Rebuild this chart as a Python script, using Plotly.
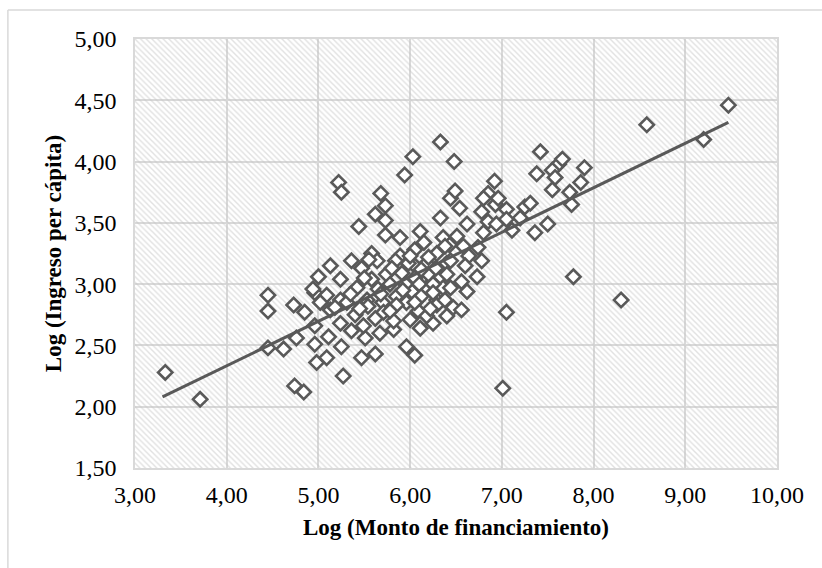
import plotly.graph_objects as go

# ---- data ----
x_vals = [
    3.33, 3.71,
    4.45, 4.45, 4.73, 4.85, 4.96, 5.09,
    4.45, 4.62, 4.76, 4.96, 4.98, 5.09,
    4.74, 4.84,
    5.47, 5.62, 5.96, 6.05,
    6.11, 6.25, 6.40, 5.24, 5.36, 5.51, 5.67, 5.82, 5.13,
    5.25, 5.27,
    6.33, 6.03, 6.48, 5.94, 5.22, 5.25, 5.68, 6.44, 6.49, 6.36, 6.43, 6.51, 5.89, 6.05,
    5.73, 5.62, 5.73, 5.44, 5.73, 5.89, 6.33, 6.11, 6.15, 6.29, 6.05, 5.58, 5.36, 5.13,
    5.00, 5.47, 5.64, 5.84, 5.98, 6.18, 6.40, 5.24, 5.42, 5.58, 5.74, 5.91, 6.05, 6.20,
    6.33, 4.94, 5.24, 5.65, 5.85, 6.02, 6.18, 6.36, 5.53, 5.70, 5.96, 6.29,
    5.02, 5.18, 5.31, 5.54, 5.40, 5.71, 5.85, 6.09, 6.29, 5.49, 5.11, 4.96, 5.82, 6.00,
    6.54, 6.78, 6.93, 7.05, 7.25, 7.31, 6.85, 7.05, 7.20, 6.62, 6.80, 6.94, 7.11,
    6.38, 6.58, 6.74, 6.64, 6.78, 6.44, 6.60, 6.40, 6.56, 6.73, 6.44, 6.62, 6.38,
    7.05, 7.36, 7.50, 7.76, 7.78,
    6.47, 6.56, 7.01,
    7.42, 7.38, 7.62, 7.66, 7.55, 7.58, 7.55, 7.74, 7.90, 7.86, 6.92, 6.85, 6.80, 6.96,
    8.30, 8.58, 9.20, 9.47,
    5.78, 5.95, 6.10, 6.25, 5.80, 6.12, 6.28, 5.68, 5.92, 6.12, 6.25, 6.00, 6.20,
    5.55, 5.50, 5.35, 5.45, 5.62, 5.78, 6.18, 6.05, 6.22,
]
y_vals = [
    2.28, 2.06,
    2.91, 2.78, 2.83, 2.77, 2.93, 2.91,
    2.48, 2.47, 2.56, 2.51, 2.36, 2.40,
    2.17, 2.12,
    2.40, 2.43, 2.49, 2.42,
    2.64, 2.68, 2.74, 2.68, 2.62, 2.56, 2.60, 2.63, 2.79,
    2.49, 2.25,
    4.16, 4.04, 4.00, 3.89, 3.83, 3.75, 3.74, 3.70, 3.76, 3.38, 3.32, 3.39, 3.23, 3.15,
    3.64, 3.57, 3.52, 3.47, 3.40, 3.38, 3.54, 3.43, 3.34, 3.25, 3.28, 3.25, 3.19, 3.15,
    3.06, 3.13, 3.19, 3.19, 3.17, 3.17, 3.17, 3.04, 2.97, 3.04, 3.08, 3.09, 3.05, 3.08,
    3.06, 2.96, 2.87, 2.96, 2.90, 2.94, 2.97, 2.97, 2.87, 2.85, 2.85, 2.87,
    2.85, 2.81, 2.85, 2.82, 2.75, 2.77, 2.83, 2.78, 2.83, 2.66, 2.57, 2.66, 2.70, 2.71,
    3.62, 3.59, 3.65, 3.61, 3.63, 3.66, 3.51, 3.53, 3.54, 3.49, 3.42, 3.49, 3.44,
    3.31, 3.31, 3.30, 3.23, 3.19, 3.19, 3.15, 3.08, 3.02, 3.06, 2.97, 2.94, 2.87,
    2.77, 3.42, 3.49, 3.65, 3.06,
    2.81, 2.79, 2.15,
    4.08, 3.90, 3.98, 4.02, 3.93, 3.87, 3.77, 3.75, 3.95, 3.83, 3.84, 3.74, 3.70, 3.70,
    2.87, 4.30, 4.18, 4.46,
    3.00, 3.00, 3.00, 3.00, 3.13, 3.12, 3.13, 2.92, 2.95, 2.90, 2.93, 3.23, 3.22,
    3.20, 3.05, 2.92, 2.80, 2.72, 2.78, 2.74, 2.85, 2.80,
]

# linear trend line end points
trend_x = [3.30, 9.47]
trend_y = [2.08, 4.32]

x_range = [3, 10]
y_range = [1.5, 5]
x_title = "Log (Monto de financiamiento)"
y_title = "Log (Ingreso per cápita)"

GRID = "#d9d9d9"
MARK = "#595959"
FONT = "Liberation Serif"

fig = go.Figure()

# hatched plot-area background
fig.add_trace(go.Scatter(
    x=[x_range[0], x_range[1], x_range[1], x_range[0], x_range[0]],
    y=[y_range[0], y_range[0], y_range[1], y_range[1], y_range[0]],
    mode="lines", line=dict(width=0), fill="toself",
    fillcolor="rgba(0,0,0,0)",
    fillpattern=dict(shape="\\", fgcolor="#c4c4c4", bgcolor="rgba(0,0,0,0)",
                     size=4, solidity=0.35),
    hoverinfo="skip", showlegend=False,
))

fig.add_trace(go.Scatter(
    x=x_vals, y=y_vals, mode="markers",
    marker=dict(symbol="diamond", size=11, color="white",
                line=dict(color=MARK, width=2.6)),
    showlegend=False,
))

fig.add_trace(go.Scatter(
    x=trend_x, y=trend_y, mode="lines",
    line=dict(color=MARK, width=3),
    showlegend=False,
))

# outer chart border (top and left edges visible)
fig.add_shape(type="line", xref="paper", yref="paper",
              x0=-0.198, x1=1.2, y0=1.0676, y1=1.0676,
              line=dict(color=GRID, width=1.5))
fig.add_shape(type="line", xref="paper", yref="paper",
              x0=-0.198, x1=-0.198, y0=1.0676, y1=-0.3,
              line=dict(color=GRID, width=1.5))

tick_font = dict(family=FONT, size=24, color="#000000")
title_font = dict(family=FONT, size=23, color="#000000")

fig.update_layout(
    width=822, height=568,
    margin=dict(l=135, r=45, t=39, b=100),
    paper_bgcolor="white", plot_bgcolor="white",
    separators=",.",
    font=dict(family=FONT, size=24, color="#000000"),
)
fig.update_xaxes(
    range=x_range, dtick=1, tick0=3, tickformat=".2f", tickfont=tick_font,
    showgrid=True, gridcolor=GRID, gridwidth=1.5,
    showline=True, linecolor=GRID, linewidth=1.5, mirror=True,
    zeroline=False, ticks="", ticklabelstandoff=4,
    title=dict(text="<b>" + x_title + "</b>", font=title_font, standoff=12),
)
fig.update_yaxes(
    range=y_range, dtick=0.5, tick0=1.5, tickformat=".2f", tickfont=tick_font,
    showgrid=True, gridcolor=GRID, gridwidth=1.5,
    showline=True, linecolor=GRID, linewidth=1.5, mirror=True,
    zeroline=False, ticks="", ticklabelstandoff=12,
    title=dict(text="<b>" + y_title + "</b>", font=title_font, standoff=6),
)

fig.write_html("out.html")
